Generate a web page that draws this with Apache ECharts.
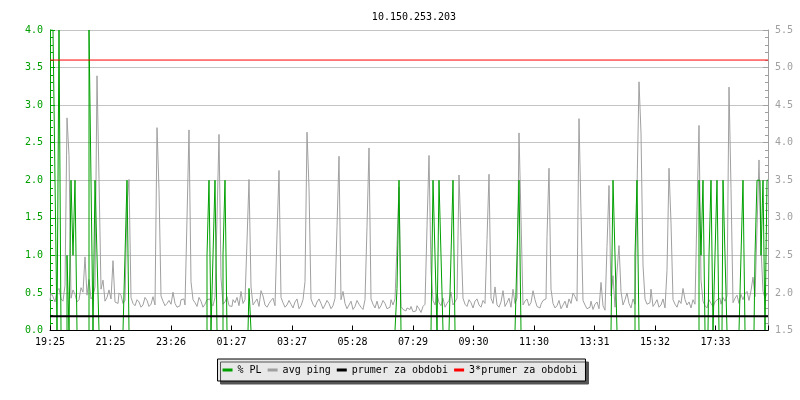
<!DOCTYPE html>
<html><head><meta charset="utf-8">
<script src="https://cdn.jsdelivr.net/npm/echarts@6/dist/echarts.min.js"></script>
<style>html,body{margin:0;padding:0;background:#fff}#c{width:800px;height:400px}</style>
</head><body><div id="c"></div>
<script>
const chartTitle = '10.150.253.203';
const timeLabels = ['19:25','21:25','23:26','01:27','03:27','05:28','07:29','09:30','11:30','13:31','15:32','17:33'];
const samplesPerLabel = 30.25;
const seriesNames = ['% PL','avg ping','prumer za obdobi','3*prumer za obdobi'];

// avg ping (right axis), one value per sample
const avgPing = [
1.90,2.00,1.95,1.88,2.03,2.06,1.92,1.89,2.10,4.33,3.83,1.93,2.04,1.98,1.88,1.91,2.07,2.01,2.48,1.97,
2.18,1.92,1.96,2.08,4.89,3.52,2.05,2.17,1.89,1.94,2.04,1.92,2.43,1.88,1.86,2.00,1.97,1.86,1.90,3.18,
3.51,1.94,1.86,1.83,1.91,1.88,1.81,1.84,1.94,1.90,1.82,1.85,1.95,1.84,4.20,3.38,1.96,1.89,1.83,1.86,
1.90,1.85,2.01,1.86,1.81,1.83,1.91,1.92,1.84,2.99,4.17,2.15,1.91,1.87,1.82,1.94,1.89,1.81,1.85,1.91,
1.92,1.86,1.83,1.94,2.99,4.11,2.20,1.85,1.88,1.95,1.83,1.82,1.91,1.87,1.94,1.83,2.02,1.86,1.91,2.69,
3.51,2.08,1.84,1.88,1.92,1.82,2.03,1.96,1.84,1.81,1.86,1.90,1.93,1.83,2.78,3.63,1.94,1.87,1.81,1.84,
1.90,1.85,1.80,1.88,1.92,1.79,1.83,1.91,2.15,4.14,3.40,1.92,1.85,1.81,1.88,1.92,1.86,1.79,1.84,1.90,
1.86,1.79,1.83,1.93,2.88,3.82,1.91,2.02,1.86,1.79,1.84,1.89,1.78,1.82,1.90,1.85,1.81,1.78,1.91,2.88,
3.93,1.92,1.85,1.80,1.89,1.79,1.83,1.90,1.86,1.79,1.81,1.91,1.84,1.92,2.63,3.41,1.82,1.78,1.76,1.80,
1.78,1.82,1.75,1.76,1.83,1.79,1.74,1.82,1.85,2.88,3.83,2.30,1.90,1.84,1.99,1.87,1.83,1.93,1.81,1.86,
1.90,2.01,1.84,1.88,1.93,3.57,2.74,1.93,1.85,1.82,1.91,1.87,1.80,1.89,1.92,1.84,1.81,1.90,1.86,2.71,
3.58,1.93,1.86,2.08,1.84,1.81,1.88,2.03,1.82,1.87,1.93,1.81,2.05,1.86,1.93,4.13,2.99,1.84,1.89,1.92,
1.83,1.87,2.03,1.91,1.82,1.80,1.85,1.90,1.92,2.75,3.66,2.05,1.86,1.80,1.83,1.90,1.79,1.84,1.89,1.80,
1.92,1.86,2.00,1.95,1.89,4.32,3.07,1.90,1.84,1.79,1.81,1.89,1.78,1.85,1.88,1.79,2.14,1.83,1.77,2.62,
3.43,1.96,2.23,1.81,2.28,2.63,2.02,1.84,1.91,2.00,1.86,1.80,1.92,1.85,3.38,4.81,4.13,2.37,1.92,1.85,
1.87,2.05,1.82,1.86,1.91,1.81,1.84,1.92,1.80,2.30,3.66,2.93,1.91,1.85,1.81,1.90,1.86,2.06,1.91,1.84,
1.88,1.80,1.91,1.85,3.10,4.23,2.17,1.89,1.83,1.80,1.91,1.86,1.82,1.88,1.91,1.93,1.85,1.94,1.89,1.96,
4.74,3.39,1.87,1.93,1.97,1.86,1.98,1.91,1.99,2.02,1.90,2.03,2.21,1.95,2.86,3.77,2.60,2.02,1.93,1.99
];

// % packet loss (left axis), one value per sample
const packetLoss = [
4,4,4,2,0,4,0,0,0,1,0,2,1,2,0,0,0,0,0,0,
4,2,0,2,1,0,0,0,0,0,0,0,0,0,0,0,0,0,1,2,
0,0,0,0,0,0,0,0,0,0,0,0,0,0,0,0,0,0,0,0,
0,0,0,0,0,0,0,0,0,0,0,0,0,0,0,0,0,0,0,1,
2,0,1,2,0,0,0,1,2,0,0,0,0,0,0,0,0,0,0,0,
0.56,0,0,0,0,0,0,0,0,0,0,0,0,0,0,0,0,0,0,0,
0,0,0,0,0,0,0,0,0,0,0,0,0,0,0,0,0,0,0,0,
0,0,0,0,0,0,0,0,0,0,0,0,0,0,0,0,0,0,0,0,
0,0,0,0,0,0,0,0,0,0,0,0,0,0,0.56,2,0,0,0,0,
0,0,0,0,0,0,0,0,0,0,0,0,2,1,0,2,1,0,0,0,
0,1,2,0,0,0,0,0,0,0,0,0,0,0,0,0,0,0,0,0,
0,0,0,0,0,0,0,0,0,0,0,0,0,0,1,2,0,0,0,0,
0,0,0,0,0,0,0,0,0,0,0,0,0,0,0,0,0,0,0,0,
0,0,0,0,0,0,0,0,0,0,0,0,0,0,0,0,0,0,0,0,
0,0,2,1,0,0,0,0,0,0,0,0,0,1,2,0,0,0,0,0,
0,0,0,0,0,0,0,0,0,0,0,0,0,0,0,0,0,0,0,0,
0,0,0,0,0,2,1,2,0,0,1,2,0,1,2,0,0,2,1,0,
0,0,0,0,0,0,1,2,0,0,0,0,0,1,2,2,1,2,0,2
];

const prumer = 1.69;      // avg over period (right axis)
const prumer3 = 5.1;      // 3*avg (right axis)

const lastIdx = avgPing.length - 1;
const pingData = avgPing.map((v, i) => [i, v]);
const plData = packetLoss.map((v, i) => [i, v]);
const font = 'DejaVu Sans Mono';
const fs = 10;
const GREEN = '#00a000', GRAY = '#a0a0a0';

const chart = echarts.init(document.getElementById('c'), null, {renderer: 'canvas'});
chart.setOption({
  animation: false,
  backgroundColor: '#fff',
  title: {
    text: chartTitle, left: 409, top: 7, textAlign: 'center',
    textStyle: {fontFamily: font, fontSize: fs, fontWeight: 'normal', color: '#000'}
  },
  grid: {left: 50, right: 32, top: 30, bottom: 69.5},
  legend: {
    data: seriesNames, left: 'center', top: 359,
    padding: [6, 8, 6, 5], itemGap: 6, itemWidth: 10, itemHeight: 3, icon: 'rect',
    backgroundColor: '#e8e8e8', borderColor: '#000', borderWidth: 1,
    shadowColor: '#555', shadowOffsetX: 3, shadowOffsetY: 3, shadowBlur: 0,
    textStyle: {fontFamily: font, fontSize: fs, color: '#000'}
  },
  xAxis: {
    type: 'value', min: 0, max: lastIdx, interval: samplesPerLabel, z: 10,
    axisLine: {lineStyle: {color: '#000', width: 1}},
    axisTick: {inside: true, length: 5, lineStyle: {color: '#000'}},
    axisLabel: {margin: 7, fontFamily: font, fontSize: fs, color: '#000',
      formatter: v => timeLabels[Math.round(v / samplesPerLabel)] || ''},
    splitLine: {show: false}
  },
  yAxis: [
    {
      type: 'value', min: 0, max: 4, interval: 0.5,
      axisLine: {show: true, lineStyle: {color: GREEN}},
      axisTick: {show: true, inside: true, length: 5, lineStyle: {color: GREEN}},
      minorTick: {show: true, splitNumber: 5, length: 3, lineStyle: {color: GREEN}},
      axisLabel: {margin: 7, color: GREEN, fontFamily: font, fontSize: fs, formatter: v => v.toFixed(1)},
      splitLine: {show: true, lineStyle: {color: '#c4c4c4', width: 1}}
    },
    {
      type: 'value', position: 'right', min: 1.5, max: 5.5, interval: 0.5,
      axisLine: {show: true, lineStyle: {color: GRAY}},
      axisTick: {show: true, inside: true, length: 5, lineStyle: {color: GRAY}},
      minorTick: {show: true, splitNumber: 5, length: 3, lineStyle: {color: GRAY}},
      axisLabel: {margin: 7, color: GRAY, fontFamily: font, fontSize: fs, formatter: v => v.toFixed(1)},
      splitLine: {show: false}
    }
  ],
  series: [
    {name: seriesNames[0], type: 'line', step: 'middle', smooth: false, sampling: false, yAxisIndex: 0, data: plData,
      symbol: 'none', showSymbol: false, lineStyle: {color: GREEN, width: 1, join: 'miter'}, itemStyle: {color: GREEN}, z: 3},
    {name: seriesNames[1], type: 'line', step: 'middle', smooth: false, sampling: false, yAxisIndex: 1, data: pingData,
      symbol: 'none', showSymbol: false, lineStyle: {color: GRAY, width: 1, join: 'miter'}, itemStyle: {color: GRAY}, z: 2},
    {name: seriesNames[2], type: 'line', yAxisIndex: 1, data: [[0, prumer], [lastIdx, prumer]], symbol: 'none',
      lineStyle: {color: '#000', width: 2}, itemStyle: {color: '#000'}, z: 4},
    {name: seriesNames[3], type: 'line', yAxisIndex: 1, data: [[0, prumer3], [lastIdx, prumer3]], symbol: 'none',
      lineStyle: {color: '#ff0000', width: 1}, itemStyle: {color: '#ff0000'}, z: 5}
  ]
});
</script>
</body></html>
